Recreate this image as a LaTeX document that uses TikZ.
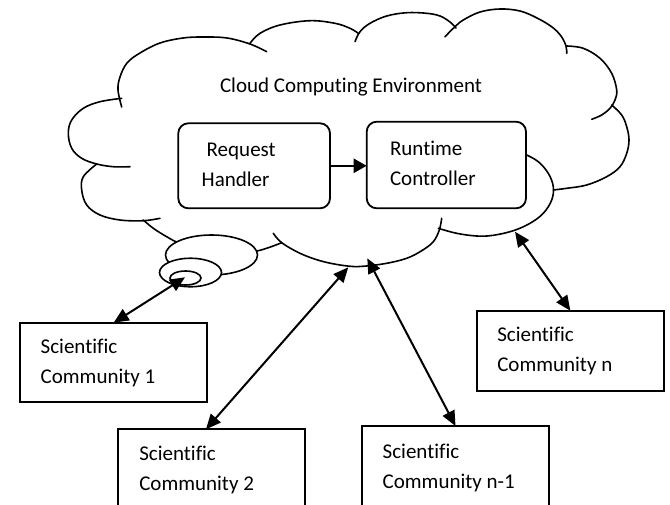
\documentclass[tikz,border=0pt]{standalone}
\usepackage{fontspec}
\setmainfont{Carlito}[Ligatures=CommonOff]
\usetikzlibrary{arrows.meta,shapes.geometric}
\newcommand\mylines[2]{\begin{tabular}[t]{@{}l@{}}#1\\#2\end{tabular}}
\begin{document}
\begin{tikzpicture}[x=1pt,y=-1pt,
  every node/.style={font=\fontsize{21}{30}\selectfont, inner sep=0pt, outer sep=0pt},
  cloudline/.style={line width=1.6pt, line join=round, line cap=round},
  bubble/.style={draw, fill=white, line width=1.6pt},
  rbox/.style={draw, line width=1.8pt, rounded corners=10pt, fill=white},
  cbox/.style={draw, line width=1.8pt, fill=white},
  lbl/.style={anchor=base west},
  twoway/.style={line width=2pt, {Triangle[length=15pt,width=13pt]}-{Triangle[length=15pt,width=13pt]}},
  oneway/.style={line width=2.5pt, -{Triangle[length=13pt,width=14pt]}},
]
\clip (0,0) rectangle (670,504);
\fill[white] (0,0) rectangle (670,504);
% cloud outline
\draw[cloudline] plot[smooth, tension=0.6] coordinates {(121.7,107) (118,90) (120,77) (127,63) (140,53) (160,43) (183,38) (203,37) (227,38) (250,44) (266.7,51.7)};
\draw[cloudline] plot[smooth, tension=0.6] coordinates {(250,43.3) (260,33.3) (280,25) (310,20.7) (335,23.3) (350,28.3) (358.3,33.3)};
\draw[cloudline] plot[smooth, tension=0.6] coordinates {(355,41.7) (360,31.7) (370,23.3) (386.7,16) (406.7,12.7) (426.7,13.3) (440,16) (450,22) (456,28)};
\draw[cloudline] plot[smooth, tension=0.6] coordinates {(445,36.7) (455,26.7) (463.3,20) (480,12) (500,9) (520,11) (537,18) (552,27) (561,36) (566,46) (566.7,53.3)};
\draw[cloudline] plot[smooth, tension=0.6] coordinates {(566.7,46) (583.3,48.3) (600,58.3) (611.7,73.3) (616.7,90) (615,100) (610,108.3) (601.7,115) (591.7,119.3)};
\draw[cloudline] plot[smooth, tension=0.6] coordinates {(611.7,105) (621.7,115) (626.7,126.7) (629,140) (626.7,153.3) (620,166.7) (606.7,176.7) (586.7,185) (566.7,188.3) (553.3,190)};
\draw[cloudline] plot[smooth, tension=0.6] coordinates {(526.7,155) (538.3,161.7) (548.3,173.3) (553.3,186.7) (551.7,200) (543.3,213.3) (530,223.3) (513.3,230.7) (493.3,235.3) (476.7,236) (456.7,233.3) (438.3,228.3)};
\draw[cloudline] plot[smooth, tension=0.6] coordinates {(273.3,233.3) (281.7,242.7) (300,253.3) (320,260.7) (340,265) (356.7,266.7) (366.7,266) (386.7,263.3) (406.7,258.3) (421.7,250.7) (433.3,241.7) (439.3,230) (441.7,218.3)};
\draw[cloudline] plot[smooth, tension=0.6] coordinates {(143.3,220) (153.3,228.3) (166.7,236.7) (180,243.3) (205,250) (230,253) (257,251) (281.7,242.7)};
\draw[cloudline] plot[smooth, tension=0.6] coordinates {(96.7,164) (83.3,176.7) (81.7,190) (86.7,205) (100,215) (120,220) (143.3,220.7) (160,218.3)};
\draw[cloudline] plot[smooth, tension=0.6] coordinates {(121.7,98.3) (100,101.7) (83.3,108.3) (71.7,120) (68.3,133.3) (71.7,148.3) (81.7,158.3) (96.7,164) (113.3,166.7) (130,166.7)};
% trailing bubbles
\node[bubble, ellipse, minimum width=92pt, minimum height=40pt] (b1) at (211.5,255) {};
\node[bubble, ellipse, minimum width=62pt, minimum height=28.5pt] (b2) at (190.5,272.5) {};
\node[bubble, ellipse, minimum width=31pt, minimum height=14pt] (b3) at (185.5,278) {};
% inner boxes
\node[rbox, minimum width=151.7pt, minimum height=85pt] (rh) at (254.15,165.8) {};
\node[rbox, minimum width=159.3pt, minimum height=86.6pt] (rc) at (446.35,165) {};
\node[lbl] (tcloud) at (220,92) {Cloud Computing Environment};
\node[lbl] (trh) at (201.7,156.7) {\mylines{\hspace{5pt}Request}{Handler}};
\node[lbl] (trc) at (390,155) {\mylines{Runtime}{Controller}};
\draw[oneway] (rh.east) -- (rh.east -| rc.west);
% communities
\node[cbox, minimum width=187.3pt, minimum height=79pt] (c1) at (113.65,362.2) {};
\node[cbox, minimum width=186.7pt, minimum height=90.7pt] (c2) at (211.65,474.65) {};
\node[cbox, minimum width=187.6pt, minimum height=94pt] (c3) at (455.5,473) {};
\node[cbox, minimum width=187.3pt, minimum height=80pt] (cn) at (570.35,350.7) {};
\node[lbl] (t1) at (40.7,353.3) {\mylines{Scientific}{Community 1}};
\node[lbl] (t2) at (139.3,460) {\mylines{Scientific}{Community 2}};
\node[lbl] (t3) at (382.7,458.3) {\mylines{Scientific}{Community n-1}};
\node[lbl] (tn) at (497.3,341.7) {\mylines{Scientific}{Community n}};
% connectors
\coordinate (p1) at (185,277.3);
\coordinate (p2) at (348.3,267.3);
\coordinate (p3) at (367.3,258.3);
\coordinate (pn) at (515,231.7);
\draw[twoway] (c1.north) -- (p1);
\draw[twoway] ([xshift=-5.7pt]c2.north) -- (p2);
\draw[twoway] (c3.north) -- (p3);
\draw[twoway] (cn.north) -- (pn);
\end{tikzpicture}
\end{document}
